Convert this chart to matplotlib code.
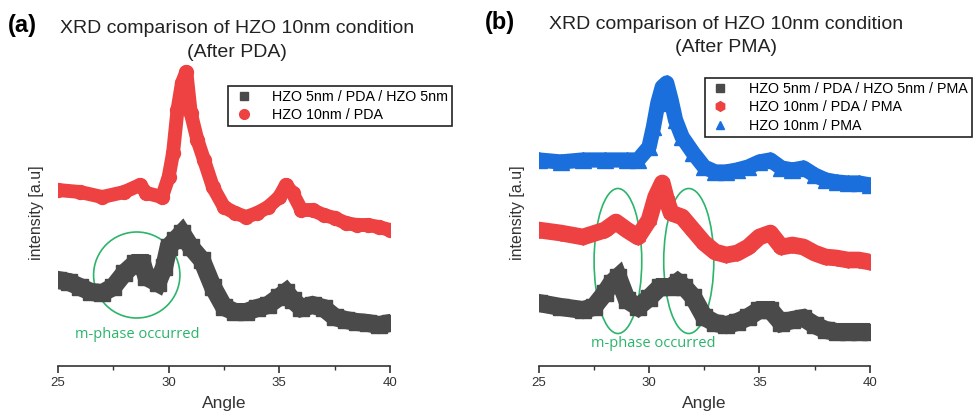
import matplotlib.pyplot as plt
from matplotlib.lines import Line2D
from matplotlib.patches import Ellipse

plt.rcParams['font.family'] = ['Liberation Sans', 'DejaVu Sans']

DARK = "#4a4a4a"
RED = "#ee4141"
BLUE = "#1b6fdc"
GREEN = "#2bb56a"

# (a) After PDA  -- angle [deg], intensity [a.u.]
a_red_x = [25, 26, 27, 28, 28.7, 29, 29.7, 30, 30.2, 30.4, 30.6, 30.8, 31.0, 31.3, 31.6,
           32, 32.5, 33, 33.5, 34, 34.5, 35, 35.3, 35.6, 36, 36.5, 37, 37.5, 38, 38.5,
           39, 39.5, 40]
a_red_y = [176, 174, 169, 174, 181, 173, 169, 189, 213, 256, 283, 294, 253, 226, 206,
           179, 159, 153, 149, 153, 159, 169, 181, 173, 156, 156, 151, 148, 143, 141,
           141, 139, 136]

a_dark_x = [25, 25.5, 26, 26.5, 27, 27.5, 28, 28.5, 28.8, 29, 29.5, 29.8, 30, 30.3, 30.6,
            31, 31.5, 32, 32.5, 33, 33.5, 34, 34.5, 35, 35.3, 35.6, 36, 36.5, 37, 37.5,
            38, 38.5, 39, 39.5, 40]
a_dark_y = [86, 84, 79, 74, 73, 79, 93, 103, 103, 89, 83, 99, 119, 126, 133,
            119, 106, 79, 59, 54, 54, 58, 61, 69, 74, 66, 58, 61, 58, 49,
            46, 44, 43, 41, 43]

# (b) After PMA
b_blue_x = [25, 26, 27, 28, 29, 29.5, 30, 30.2, 30.4, 30.6, 30.8, 31.0, 31.2, 31.5, 32,
            32.5, 33, 33.5, 34, 34.5, 35, 35.5, 36, 36.5, 37, 37.5, 38, 38.5, 39, 39.5, 40]
b_blue_y = [206, 204, 206, 206, 206, 206, 219, 239, 263, 279, 283, 266, 246, 229, 213,
            199, 194, 194, 196, 199, 204, 206, 198, 196, 198, 191, 186, 184, 183, 183, 181]

b_red_x = [25, 26, 27, 28, 28.5, 29, 29.5, 30, 30.3, 30.6, 30.8, 31, 31.5, 32, 32.5,
           33, 33.5, 34, 34.5, 35, 35.5, 36, 36.5, 37, 37.5, 38, 38.5, 39, 39.5, 40]
b_red_y = [136, 133, 129, 136, 144, 136, 129, 146, 169, 183, 166, 153, 149, 136, 123,
           114, 111, 113, 119, 129, 133, 119, 121, 119, 113, 109, 108, 106, 106, 104]

b_dark_x = [25, 26, 27, 27.5, 28, 28.3, 28.6, 29, 29.5, 30, 30.5, 31, 31.3, 31.6, 32,
            32.5, 33, 33.5, 34, 34.5, 35, 35.5, 36, 36.5, 37, 37.5, 38, 38.5, 39, 39.5, 40]
b_dark_y = [63, 59, 56, 59, 73, 83, 89, 66, 59, 68, 79, 79, 84, 79, 69,
            49, 43, 41, 44, 49, 56, 56, 43, 46, 48, 41, 36, 34, 34, 34, 34]

x_ticks = [25, 30, 35, 40]


def style_axis(ax):
    ax.set_xlim(25, 40)
    ax.set_ylim(0, 306)
    for side in ["left", "right", "top"]:
        ax.spines[side].set_visible(False)
    ax.spines["bottom"].set_color("#333333")
    ax.spines["bottom"].set_linewidth(1.2)
    ax.set_yticks([])
    ax.set_xticks(x_ticks)
    ax.set_xticks([27.5, 32.5, 37.5], minor=True)
    ax.tick_params(axis="x", which="major", direction="out", length=5, width=1.2,
                   colors="#333333", labelsize=9.5, pad=3)
    ax.tick_params(axis="x", which="minor", direction="out", length=3, width=1.0,
                   colors="#333333")
    ax.set_xlabel("Angle", fontsize=12.5, color="#333333", labelpad=5)
    ax.set_ylabel("intensity [a.u]", fontsize=11.5, color="#333333", labelpad=10)
    ax.patch.set_alpha(0)


fig = plt.figure(figsize=(9.74, 4.17), dpi=100)
ax1 = fig.add_axes([0.0595, 0.1223, 0.3409, 0.7338])
ax2 = fig.add_axes([0.5531, 0.1223, 0.3398, 0.7338])

# panel (a)
ax1.plot(a_red_x, a_red_y, color=RED, lw=10, marker="o", ms=10, solid_joinstyle="round")
ax1.plot(a_dark_x, a_dark_y, color=DARK, lw=13, marker="s", ms=11, solid_joinstyle="miter")
ax1.add_patch(Ellipse((28.56, 91), 3.9, 86, fill=False, ec=GREEN, lw=1.2))
ax1.text(28.6, 32, "m-phase occurred", color=GREEN, fontsize=10.5, ha="center",
         va="center", family=["Open Sans", "DejaVu Sans"])
style_axis(ax1)
h1 = [Line2D([], [], ls="none", marker="s", color=DARK, ms=6),
      Line2D([], [], ls="none", marker="o", color=RED, ms=7)]
leg1 = ax1.legend(h1, ["HZO 5nm / PDA / HZO 5nm", "HZO 10nm / PDA"],
                  loc="upper left", bbox_to_anchor=(0.49, 0.94), fontsize=10.3,
                  frameon=True, fancybox=False, edgecolor="#222222", framealpha=1,
                  handletextpad=1.2, borderpad=0.3, labelspacing=0.3, handlelength=1.6)
leg1.get_frame().set_linewidth(1.2)

# panel (b)
ax2.plot(b_blue_x, b_blue_y, color=BLUE, lw=11, marker="^", ms=11, solid_joinstyle="round")
ax2.plot(b_red_x, b_red_y, color=RED, lw=12, marker="h", ms=11, solid_joinstyle="round")
ax2.plot(b_dark_x, b_dark_y, color=DARK, lw=13, marker="s", ms=11, solid_joinstyle="miter")
ax2.add_patch(Ellipse((28.59, 105), 2.16, 145, fill=False, ec=GREEN, lw=1.2))
ax2.add_patch(Ellipse((31.8, 105), 2.27, 145, fill=False, ec=GREEN, lw=1.2))
ax2.text(30.2, 23, "m-phase occurred", color=GREEN, fontsize=10.5, ha="center",
         va="center", family=["Open Sans", "DejaVu Sans"])
style_axis(ax2)
h2 = [Line2D([], [], ls="none", marker="s", color=DARK, ms=6),
      Line2D([], [], ls="none", marker="h", color=RED, ms=7),
      Line2D([], [], ls="none", marker="^", color=BLUE, ms=6)]
leg2 = ax2.legend(h2, ["HZO 5nm / PDA / HZO 5nm / PMA", "HZO 10nm / PDA / PMA",
                       "HZO 10nm / PMA"],
                  loc="upper left", bbox_to_anchor=(0.48, 0.965), fontsize=10.3,
                  frameon=True, fancybox=False, edgecolor="#222222", framealpha=1,
                  handletextpad=1.2, borderpad=0.3, labelspacing=0.3, handlelength=1.6)
leg2.get_frame().set_linewidth(1.2)

# titles and panel letters
fig.text(0.243, 0.932, "XRD comparison of HZO 10nm condition", ha="center", va="center",
         fontsize=14, color="#222222")
fig.text(0.243, 0.875, "(After PDA)", ha="center", va="center", fontsize=14, color="#222222")
fig.text(0.745, 0.942, "XRD comparison of HZO 10nm condition", ha="center", va="center",
         fontsize=14, color="#222222")
fig.text(0.745, 0.887, "(After PMA)", ha="center", va="center", fontsize=14, color="#222222")
fig.text(0.008, 0.94, "(a)", ha="left", va="center", fontsize=17, fontweight="bold")
fig.text(0.498, 0.945, "(b)", ha="left", va="center", fontsize=17, fontweight="bold")

fig.savefig("out.png", dpi=100)
